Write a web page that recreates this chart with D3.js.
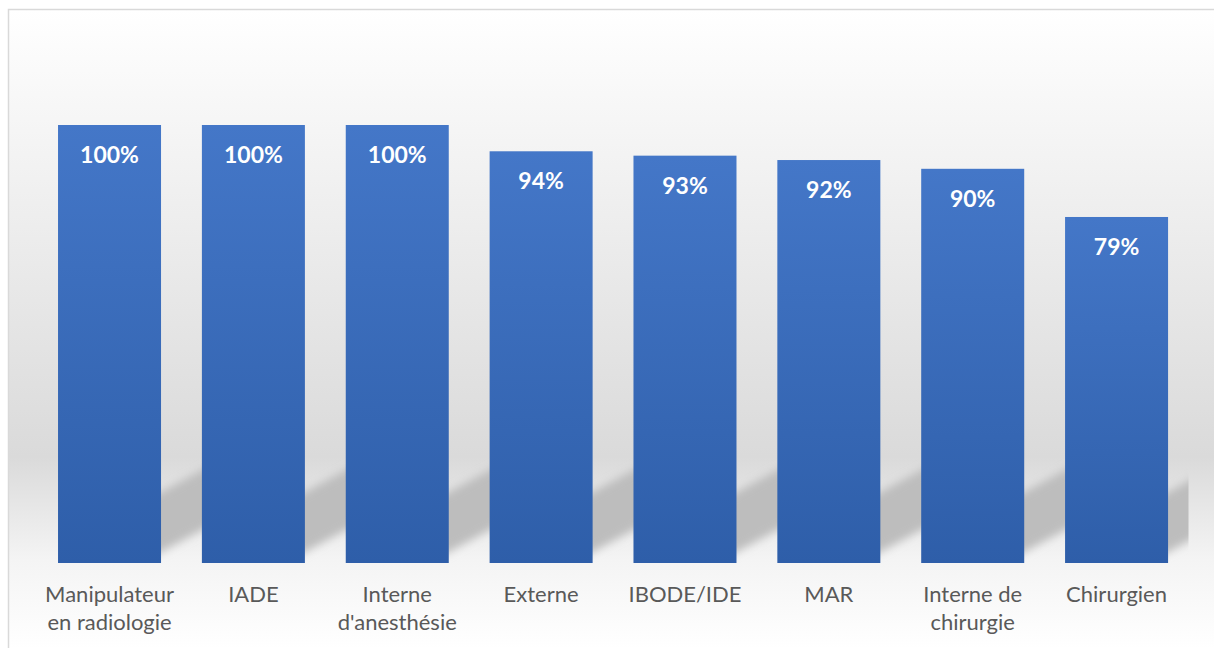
<!DOCTYPE html>
<html>
<head>
<meta charset="utf-8">
<script src="https://cdn.jsdelivr.net/npm/d3@7/dist/d3.min.js"></script>
<style>
html,body{margin:0;padding:0;background:#fff;overflow:hidden;}
svg{display:block;}
</style>
</head>
<body>
<svg id="chart" width="1214" height="648"></svg>
<script>
const categories = ["Manipulateur en radiologie", "IADE", "Interne d'anesthésie", "Externe", "IBODE/IDE", "MAR", "Interne de chirurgie", "Chirurgien"];
const values = [1.00, 1.00, 1.00, 0.94, 0.93, 0.92, 0.90, 0.79];

const W = 1214, H = 648;
const svg = d3.select("#chart");
const defs = svg.append("defs");

// chart background gradient
const bg = defs.append("linearGradient").attr("id","bgGrad").attr("x1",0).attr("y1",0).attr("x2",0).attr("y2",1);
bg.append("stop").attr("offset","0%").attr("stop-color","#ffffff");
bg.append("stop").attr("offset","70%").attr("stop-color","#dadada");
bg.append("stop").attr("offset","86%").attr("stop-color","#f4f4f4");
bg.append("stop").attr("offset","100%").attr("stop-color","#ffffff");

// bar gradient
const bgBar = defs.append("linearGradient").attr("id","barGrad").attr("x1",0).attr("y1",0).attr("x2",0).attr("y2",1);
bgBar.append("stop").attr("offset","0%").attr("stop-color","#4477c8");
bgBar.append("stop").attr("offset","100%").attr("stop-color","#2e5ea9");

const blur = defs.append("filter").attr("id","blur").attr("x","-50%").attr("y","-50%").attr("width","200%").attr("height","200%");
blur.append("feGaussianBlur").attr("stdDeviation",4);

const chartTop = 9.5, chartLeft = 8.5;
svg.append("rect").attr("x",chartLeft).attr("y",chartTop).attr("width",W+20).attr("height",H-chartTop+1)
  .attr("fill","url(#bgGrad)").attr("stroke","#d9d9d9").attr("stroke-width",1.5);

const x = d3.scaleBand().domain(categories).range([37.6, 1188.5]).paddingInner(0.284).paddingOuter(0.142);
const y = d3.scaleLinear().domain([0,1]).range([563,125]);

defs.append("clipPath").attr("id","plotClip").append("rect")
  .attr("x",37.6).attr("y",0).attr("width",1188.5-37.6).attr("height",y(0));

// shadows
const yb = y(0);
const sh = svg.append("g").attr("clip-path","url(#plotClip)").append("g").attr("filter","url(#blur)");
sh.selectAll("polygon").data(categories).join("polygon")
  .attr("fill","#bdbdbd")
  .attr("points", d => {
    const x0 = x(d) + 20, x1 = x(d) + x.bandwidth();
    const xe = x1 + 70;
    const yc = xx => yb - 41 - 0.54*(xx - x1);
    return [[x0, yc(x0)-30],[xe, yc(xe)-30],[xe, yc(xe)+30],[x0, yc(x0)+30]].map(p=>p.join(",")).join(" ");
  });

// bars
svg.append("g").selectAll("rect").data(categories).join("rect")
  .attr("x", d => x(d)).attr("width", x.bandwidth())
  .attr("y", (d,i) => y(values[i])).attr("height", (d,i) => y(0) - y(values[i]))
  .attr("fill","url(#barGrad)");

// value labels
svg.append("g").selectAll("text").data(categories).join("text")
  .attr("x", d => x(d) + x.bandwidth()/2)
  .attr("y", (d,i) => y(values[i]) + 38)
  .attr("text-anchor","middle")
  .attr("font-family","Lato, 'Open Sans', sans-serif").attr("font-weight","bold").attr("font-size","23px")
  .attr("fill","#ffffff")
  .text((d,i) => d3.format(".0%")(values[i]));

// category axis (no line, no ticks)
const axis = svg.append("g").attr("transform",`translate(0,${y(0)})`)
  .call(d3.axisBottom(x).tickSize(0).tickPadding(0));
axis.select(".domain").remove();
axis.selectAll("text").text(null)
  .attr("font-family","Lato, 'Open Sans', sans-serif").attr("font-size","22px").attr("fill","#595959")
  .attr("dy",null).attr("y",0)
  .each(function(d){
    const t = d3.select(this);
    const words = d.split(" ");
    const maxW = x.step() - 4;
    let lines = [], cur = [];
    const probe = t.append("tspan");
    words.forEach(w => {
      const test = cur.concat([w]).join(" ");
      probe.text(test);
      if (cur.length && probe.node().getComputedTextLength() > maxW) { lines.push(cur.join(" ")); cur = [w]; }
      else cur.push(w);
    });
    if (cur.length) lines.push(cur.join(" "));
    probe.remove();
    lines.forEach((l,i) => t.append("tspan").attr("x",0).attr("y", 38.7 + i*28.5).text(l));
  });
</script>
</body>
</html>
